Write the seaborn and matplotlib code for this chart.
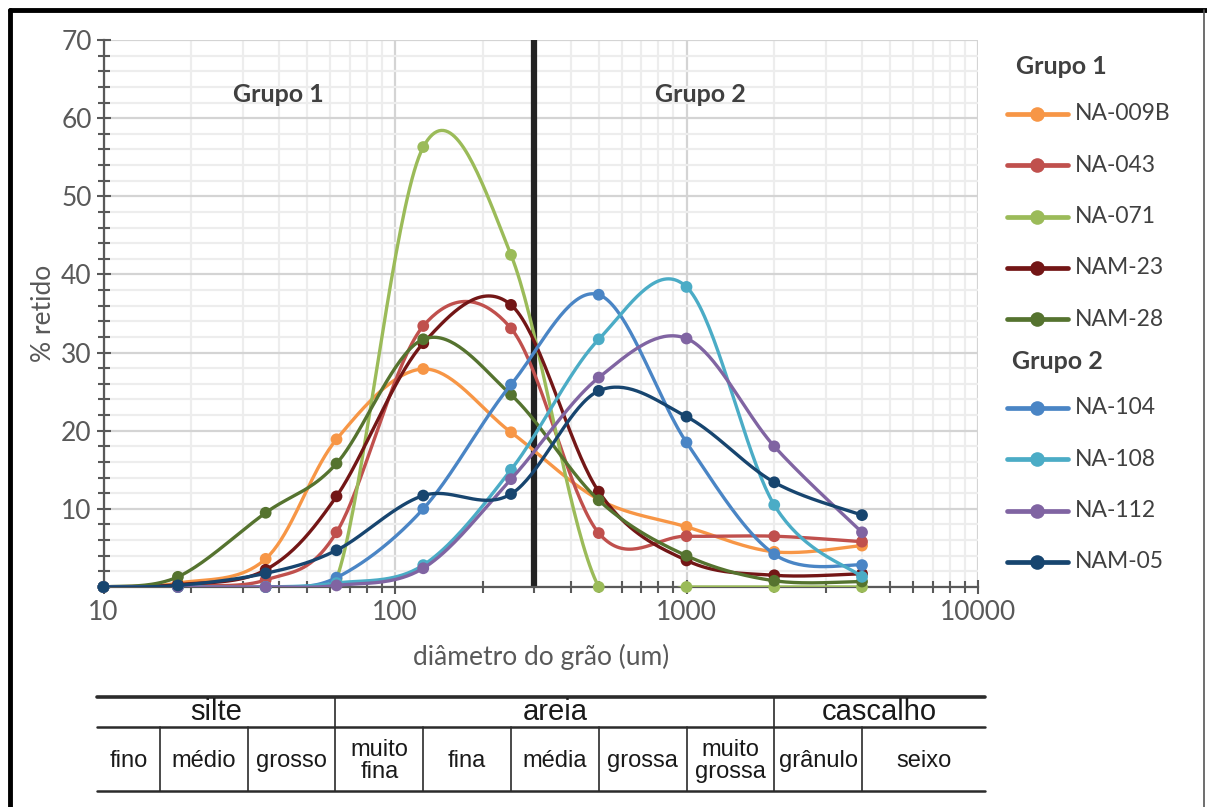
import numpy as np
import pandas as pd
import matplotlib
matplotlib.use("Agg")
import matplotlib.pyplot as plt
import seaborn as sns
from matplotlib.lines import Line2D
from matplotlib.ticker import FixedLocator, LogLocator, MultipleLocator, NullFormatter, FuncFormatter

# --- dados ---
diametro = [10, 18, 36, 63, 125, 250, 500, 1000, 2000, 4000]

amostras_g1 = ["NA-009B", "NA-043", "NA-071", "NAM-23", "NAM-28"]
amostras_g2 = ["NA-104", "NA-108", "NA-112", "NAM-05"]

na_009b = [0, 0.5, 3.6, 18.9, 27.9, 19.8, 11.2, 7.7, 4.5, 5.3]
na_043 = [0, 0.2, 0.9, 7.0, 33.4, 33.1, 6.9, 6.5, 6.5, 5.8]
na_071 = [0, 0, 0, 1.0, 56.3, 42.5, 0, 0, 0, 0]
nam_23 = [0, 0.3, 2.2, 11.6, 31.2, 36.1, 12.2, 3.4, 1.5, 1.7]
nam_28 = [0, 1.3, 9.5, 15.8, 31.7, 24.6, 11.1, 4.0, 0.8, 0.7]
na_104 = [0, 0, 0, 1.2, 10.0, 25.9, 37.4, 18.5, 4.2, 2.8]
na_108 = [0, 0, 0, 0.5, 2.8, 15.0, 31.7, 38.4, 10.5, 1.3]
na_112 = [0, 0, 0, 0.2, 2.4, 13.8, 26.8, 31.8, 18.0, 7.0]
nam_05 = [0, 0.2, 1.75, 4.7, 11.7, 11.9, 25.1, 21.8, 13.4, 9.2]

valores = {
    "NA-009B": na_009b, "NA-043": na_043, "NA-071": na_071,
    "NAM-23": nam_23, "NAM-28": nam_28, "NA-104": na_104,
    "NA-108": na_108, "NA-112": na_112, "NAM-05": nam_05,
}
cores = {
    "NA-009B": "#F79646", "NA-043": "#C0504D", "NA-071": "#9BBB59",
    "NAM-23": "#731616", "NAM-28": "#55732F", "NA-104": "#4A85C5",
    "NA-108": "#4BACC6", "NA-112": "#8064A2", "NAM-05": "#17456F",
}

limite_grupos = 300

# classes granulométricas (tabela abaixo do gráfico)
classes = ["silte", "areia", "cascalho"]
limites_classes = [62.5, 2000]
subclasses = ["fino", "médio", "grosso", "muito\nfina", "fina", "média",
              "grossa", "muito\ngrossa", "grânulo", "seixo"]
limites_sub = [15.6, 31.25, 62.5, 125, 250, 500, 1000, 2000, 4000]
borda_tabela = (9.5, 10570)


def suavizar(x, y, n=40):
    # linha suavizada tipo Excel (Bezier de Catmull-Rom) no espaço log
    lx = np.log10(np.asarray(x, float))
    y = np.asarray(y, float)
    px, py = [], []
    t = np.linspace(0, 1, n)
    for i in range(len(lx) - 1):
        i0, i3 = max(i - 1, 0), min(i + 2, len(lx) - 1)
        p0 = np.array([lx[i], y[i]])
        p3 = np.array([lx[i + 1], y[i + 1]])
        c1 = p0 + (np.array([lx[i + 1], y[i + 1]]) - np.array([lx[i0], y[i0]])) / 6
        c2 = p3 - (np.array([lx[i3], y[i3]]) - np.array([lx[i], y[i]])) / 6
        b = ((1 - t) ** 3)[:, None] * p0 + (3 * (1 - t) ** 2 * t)[:, None] * c1 \
            + (3 * (1 - t) * t ** 2)[:, None] * c2 + (t ** 3)[:, None] * p3
        px.extend(b[:, 0]); py.extend(b[:, 1])
    return 10 ** np.array(px), np.array(py)


sns.set_theme(style="white")
fonte = ["Lato", "DejaVu Sans"]
plt.rcParams["font.family"] = fonte
cinza = "#595959"

W, H = 1207, 807
fig = plt.figure(figsize=(W / 100, H / 100), dpi=100)
ax = fig.add_axes([103.5 / W, 1 - 587 / H, 874.5 / W, 547 / H])

ax.axvline(limite_grupos, color="#222222", lw=4.5, zorder=1.5)

for nome in amostras_g1 + amostras_g2:
    cx, cy = suavizar(diametro, valores[nome])
    sns.lineplot(x=cx, y=cy, color=cores[nome], lw=2.4, sort=False,
                 estimator=None, ax=ax, zorder=3)
    sns.scatterplot(x=diametro, y=valores[nome], color=cores[nome], s=72,
                    edgecolor="none", ax=ax, zorder=3, clip_on=False)

ax.set_xscale("log")
ax.set_xlim(10, 10000)
ax.set_ylim(0, 70)

ax.yaxis.set_major_locator(MultipleLocator(10))
ax.yaxis.set_minor_locator(MultipleLocator(2))
ax.yaxis.set_major_formatter(FuncFormatter(lambda v, p: "" if v == 0 else f"{v:.0f}"))
ax.xaxis.set_major_locator(FixedLocator([10, 100, 1000, 10000]))
ax.xaxis.set_minor_locator(LogLocator(base=10, subs=np.arange(2, 10)))
ax.xaxis.set_minor_formatter(NullFormatter())
ax.xaxis.set_major_formatter(FuncFormatter(lambda v, p: f"{v:.0f}"))

ax.grid(which="major", color="#D4D4D4", lw=1.6, zorder=0)
ax.grid(which="minor", color="#EDEDED", lw=1.6, zorder=0)
ax.set_axisbelow(True)

for lado in ["top", "right"]:
    ax.spines[lado].set_visible(False)
for lado in ["left", "bottom"]:
    ax.spines[lado].set_color(cinza)
    ax.spines[lado].set_linewidth(1.6)

ax.tick_params(which="both", direction="inout", color=cinza, width=1.5,
               labelsize=19, labelcolor=cinza, left=True, bottom=True)
ax.tick_params(which="major", length=10)
ax.tick_params(which="minor", length=9)
ax.tick_params(axis="x", pad=4)

ax.set_xlabel("diâmetro do grão (um)", fontsize=19, color=cinza, labelpad=14)
ax.set_ylabel("% retido", fontsize=19, color=cinza, labelpad=4)

ax.text(0.2, 0.9, "Grupo 1", transform=ax.transAxes, fontsize=18,
        fontweight="bold", color="#404040", ha="center", va="center")
ax.text(0.683, 0.9, "Grupo 2", transform=ax.transAxes, fontsize=18,
        fontweight="bold", color="#404040", ha="center", va="center")

# --- legenda em dois grupos ---
def fx(px):
    return px / W


def fy(py):
    return 1 - py / H


def cabecalho(texto, x, y):
    fig.text(fx(x), fy(y), texto, fontsize=18, fontweight="bold",
             color="#404040", va="center", ha="left")


def entrada(nome, y):
    fig.add_artist(Line2D([fx(1007), fx(1068)], [fy(y), fy(y)],
                          color=cores[nome], lw=3.4, solid_capstyle="round"))
    fig.add_artist(Line2D([fx(1037)], [fy(y)], marker="o", markersize=10.5,
                          color=cores[nome], markeredgewidth=0))
    fig.text(fx(1075), fy(y), nome, fontsize=16.5, color="#404040",
             va="center", ha="left")


cabecalho("Grupo 1", 1016, 66)
for i, nome in enumerate(amostras_g1):
    entrada(nome, 114 + i * 51.3)
cabecalho("Grupo 2", 1012, 362)
for i, nome in enumerate(amostras_g2):
    entrada(nome, 408 + i * 51.3)

# --- tabela de classes granulométricas ---
ax_t = fig.add_axes([103.5 / W, 1 - 791 / H, 874.5 / W, 94 / H])
ax_t.set_xscale("log")
ax_t.set_xlim(10, 10000)
ax_t.set_ylim(0, 94)
ax_t.axis("off")
fonte_tab = ["Liberation Sans Narrow", "Liberation Sans", "DejaVu Sans"]
cor_tab = "#2b2b2b"
e, d = borda_tabela
ax_t.plot([e, d], [94, 94], color=cor_tab, lw=2.6, clip_on=False)
ax_t.plot([e, d], [64, 64], color=cor_tab, lw=1.8, clip_on=False)
ax_t.plot([e, d], [0, 0], color=cor_tab, lw=1.8, clip_on=False)
for lim in limites_sub:
    topo = 94 if lim in limites_classes else 64
    ax_t.plot([lim, lim], [0, topo], color=cor_tab, lw=1.2, clip_on=False)

bordas_c = [e] + limites_classes + [d]
for i, nome in enumerate(classes):
    xc = np.sqrt(bordas_c[i] * bordas_c[i + 1])
    ax_t.text(xc, 79, nome, ha="center", va="center", fontsize=21,
              color="#1a1a1a", family=fonte_tab)
bordas_s = [e] + limites_sub + [d]
for i, nome in enumerate(subclasses):
    xc = np.sqrt(bordas_s[i] * bordas_s[i + 1])
    ax_t.text(xc, 30, nome, ha="center", va="center", fontsize=17,
              color="#1a1a1a", family=fonte_tab, linespacing=1.05)

# moldura da figura
fig.add_artist(Line2D([fx(10), fx(10)], [0, fy(10)], color="black", lw=3.5))
fig.add_artist(Line2D([fx(10), 1], [fy(10), fy(10)], color="black", lw=3.5))
fig.add_artist(Line2D([fx(1204), fx(1204)], [0, fy(10)], color="#555555", lw=1.2))

fig.savefig("out.png", dpi=100)
